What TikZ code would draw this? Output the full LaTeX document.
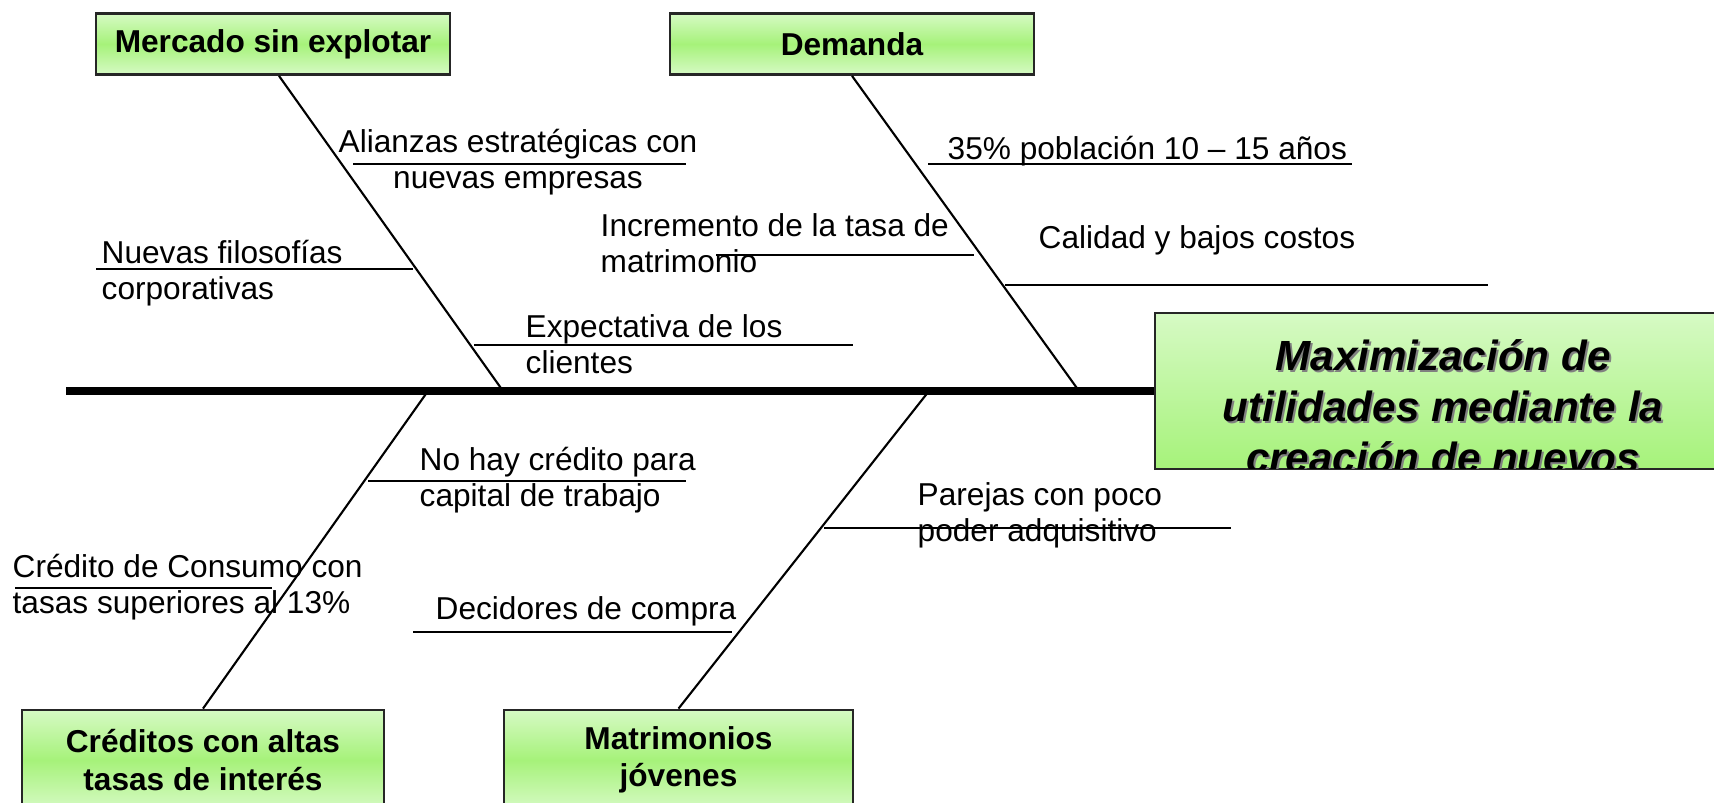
\documentclass[tikz,border=0pt]{standalone}
\usepackage{fontspec}
\setmainfont{Liberation Sans}
\definecolor{boxlight}{HTML}{D6FAC4}
\definecolor{boxgreen}{HTML}{A6F27A}
\begin{document}
\begin{tikzpicture}[x=0.1mm, y=-0.1mm,
    causebox/.style={draw=black!85, line width=0.8pt, top color=boxlight, bottom color=boxlight, middle color=boxgreen, align=center, inner sep=0pt, font=\bfseries\fontsize{9}{10.6}\selectfont},
    bone/.style={line width=0.6pt},
    note/.style={inner sep=0pt, font=\fontsize{9}{10.2}\selectfont},
    headtext/.style={inner sep=0pt, align=center, font=\bfseries\itshape\fontsize{12}{14.5}\selectfont}]
            \useasboundingbox (0,0) rectangle (1714,803);
            \clip (0,0) rectangle (1714,803);

            \node[causebox, minimum width=35.4mm, minimum height=6.1mm] (mercado) at (273,44) {Mercado sin explotar};
            \node[causebox, minimum width=36.4mm, minimum height=6.1mm] (demanda) at (852,44) {Demanda};
            \node[causebox, minimum width=36.2mm, minimum height=10mm] (creditos) at (203,760) {Créditos con altas\\tasas de interés};
            \node[causebox, minimum width=34.9mm, minimum height=10mm] (matrimonios) at (678.5,760) {Matrimonios\\jóvenes};
            \node[draw=black!85, line width=0.8pt, top color=boxlight, bottom color=boxgreen, minimum width=58mm, minimum height=15.6mm, inner sep=0pt] (head) at (1445,391) {};
            \begin{scope}
                \clip ([xshift=0.5pt,yshift=0.5pt]head.south west) rectangle ([xshift=-0.5pt,yshift=-0.5pt]head.north east);
                \node[headtext, text=black!50] (headshadow) at (1445,408) {Maximización de\\utilidades mediante la\\creación de nuevos};
                \node[headtext] (headlabel) at (1443,406) {Maximización de\\utilidades mediante la\\creación de nuevos};
            \end{scope}

            \coordinate (tail) at (66,391);
            \coordinate (m1) at (503,391);
            \coordinate (d1) at (1079,391);
            \coordinate (c1) at (428,391);
            \coordinate (j1) at (929,391);

            \draw[line width=2.3pt] (tail) -- (head.west);
            \draw[bone] ([xshift=0.6mm]mercado.south) -- (m1);
            \draw[bone] (demanda.south) -- (d1);
            \draw[bone] (c1) -- (creditos.north);
            \draw[bone] (j1) -- (matrimonios.north);

            \node[note, align=center] (alianzas) at (518,162) {Alianzas estratégicas con\\nuevas empresas};
            \draw[bone] (353,164) -- (686,164);
            \node[note, anchor=west, align=left] (filosofias) at (101,273) {Nuevas filosofías\\corporativas};
            \draw[bone] (96,269) -- (413,269);
            \node[note, anchor=west, align=left] (expectativa) at (525,344) {Expectativa de los\\clientes};
            \draw[bone] (474,345) -- (853,345);

            \node[note, anchor=west] (poblacion) at (947,151) {35\% población 10 – 15 años};
            \draw[bone] (928,164) -- (1352,164);
            \node[note, anchor=west, align=left] (incremento) at (600,243) {Incremento de la tasa de\\matrimonio};
            \draw[bone] (716,255) -- (974,255);
            \node[note, anchor=west] (calidad) at (1038,240) {Calidad y bajos costos};
            \draw[bone] (1005,285) -- (1488,285);

            \node[note, anchor=west, align=left] (trabajo) at (419,480) {No hay crédito para\\capital de trabajo};
            \draw[bone] (368,481) -- (686,481);
            \node[note, anchor=west, align=left] (consumo) at (12,587) {Crédito de Consumo con\\tasas superiores al 13\%};
            \draw[bone] (15,588) -- (272,588);
            \node[note, anchor=west] (decidores) at (435,611) {Decidores de compra};
            \draw[bone] (413,632) -- (732,632);

            \node[note, anchor=west, align=left] (parejas) at (917,515) {Parejas con poco\\poder adquisitivo};
            \draw[bone] (824,528) -- (1231,528);
        \end{tikzpicture}
\end{document}
